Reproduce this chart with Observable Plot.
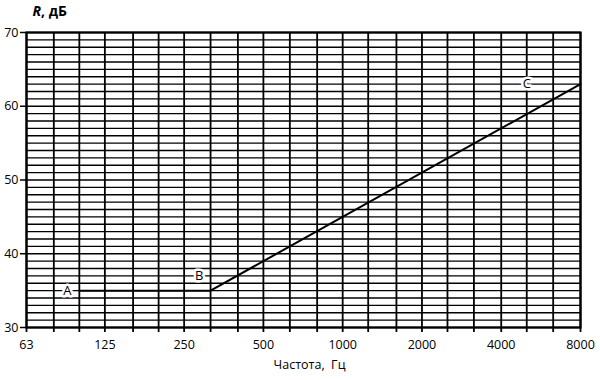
<!DOCTYPE html>
<html><head><meta charset="utf-8">
<script src="https://cdn.jsdelivr.net/npm/d3@7"></script>
<script src="https://cdn.jsdelivr.net/npm/@observablehq/plot@0.6"></script>
<style>body{margin:0;background:#fff}</style>
</head><body><div id="chart"></div>
<script>
const freqs = [63,80,100,125,160,200,250,315,400,500,630,800,1000,1250,1600,2000,2500,3150,4000,5000,6300,8000];
const freqLabels = [63,125,250,500,1000,2000,4000,8000];
const dbGrid = d3.range(30, 71, 1);
const dbTicks = [30,40,50,60,70];
const curveFreq = [100, 315, 8000];
const curveDb = [35, 35, 63];
const pointNames = ["A", "B", "C"];
const labelFreq = [90, 285, 5000];
const labelDb = [35, 37, 63];

const curve = curveFreq.map((f, i) => ({f, db: curveDb[i]}));
const labels = pointNames.map((n, i) => ({n, f: labelFreq[i], db: labelDb[i]}));

const chart = Plot.plot({
  width: 600, height: 380,
  marginLeft: 26, marginRight: 20, marginTop: 32, marginBottom: 53,
  style: {fontFamily: "Open Sans", fontSize: "12px", color: "black", background: "white"},
  x: {type: "log", domain: [63, 8000]},
  y: {domain: [30, 70]},
  marks: [
    Plot.gridY(dbGrid, {stroke: "black", strokeOpacity: 1, strokeWidth: 1.3}),
    Plot.gridX(freqs, {stroke: "black", strokeOpacity: 1, strokeWidth: 1.8}),
    Plot.axisX(freqs, {tickSize: 5, strokeWidth: 1.8, text: null, label: null}),
    Plot.text(freqLabels, {x: d => d, text: d => String(d), frameAnchor: "bottom", dy: 21, fontSize: 12.5, fill: "black"}),
    Plot.text(["Частота,  Гц"], {frameAnchor: "bottom", dx: 6, dy: 41, fontSize: 12.5, fill: "black"}),
    Plot.axisY(dbTicks, {tickSize: 6, tickPadding: 2, strokeWidth: 1.5, label: null, fontSize: 12.5}),
    Plot.frame({stroke: "black", strokeWidth: 2.2}),
    Plot.line(curve, {x: "f", y: "db", stroke: "black", strokeWidth: 2}),
    Plot.text(labels, {x: "f", y: "db", text: "n", fill: "black", stroke: "white", strokeWidth: 5, fontSize: 13}),
    Plot.text(["R, дБ"], {frameAnchor: "top-left", dx: 6, dy: -26, textAnchor: "start", fontWeight: "bold", fontSize: 14, fill: "black"})
  ]
});
d3.select(chart).selectAll("text").filter(function(){ return this.textContent === "R, дБ"; })
  .each(function(){ this.innerHTML = '<tspan font-style="italic">R</tspan>, дБ'; });
document.getElementById("chart").appendChild(chart);
</script></body></html>
